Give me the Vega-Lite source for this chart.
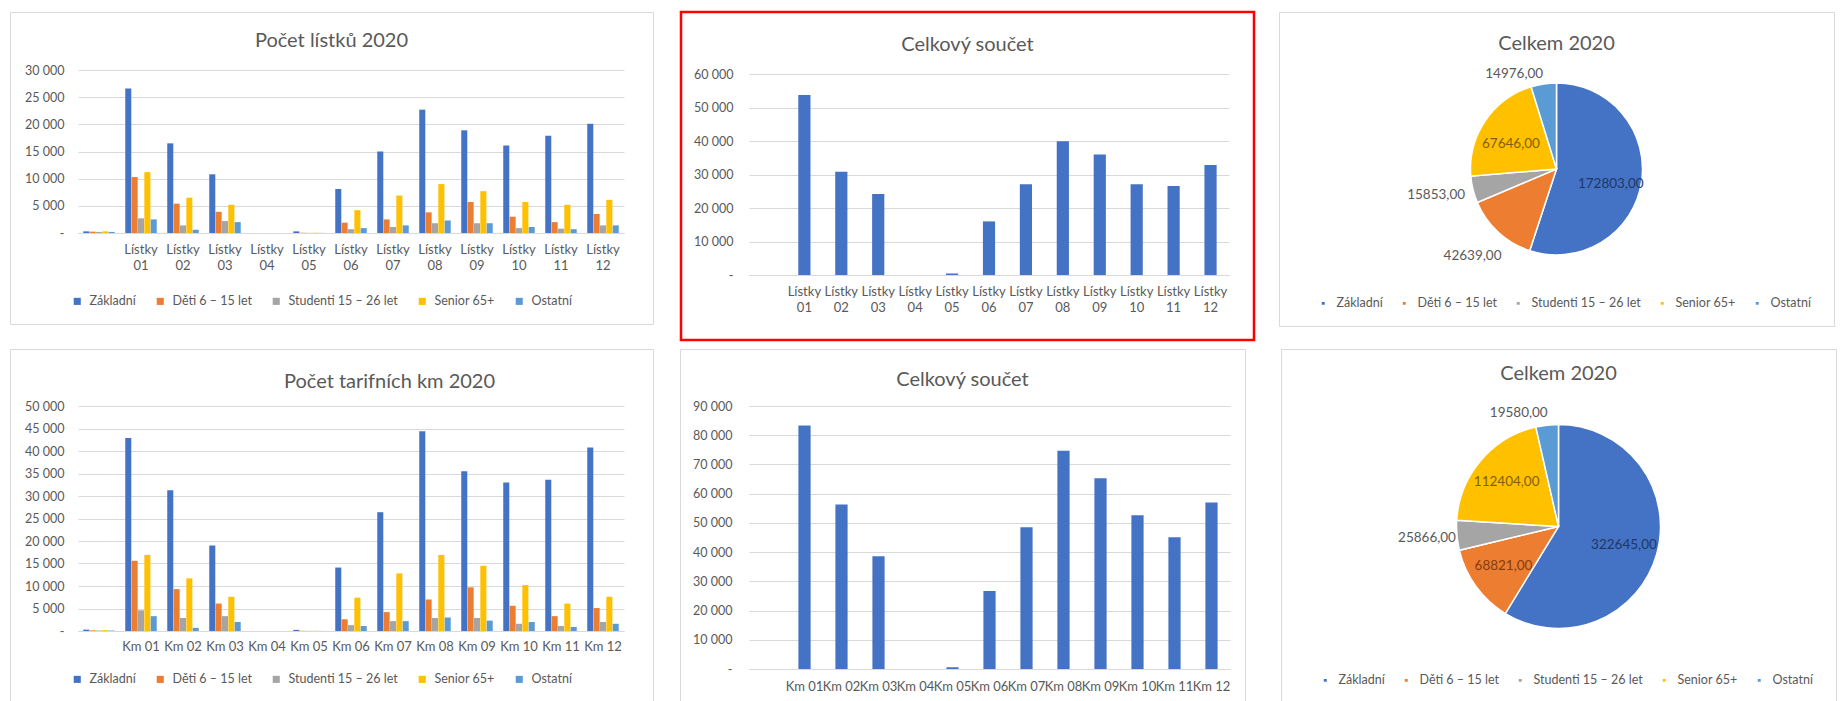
{
"$schema": "https://vega.github.io/schema/vega-lite/v6.json",
"background": "#ffffff",
"padding": {"left": 9, "top": 10, "right": 0, "bottom": 0},
"datasets": {
"tl": [
{"m":"","Základní":300,"Děti 6 – 15 let":250,"Studenti 15 – 26 let":200,"Senior 65+":300,"Ostatní":200},
{"m":"Lístky 01","Základní":26600,"Děti 6 – 15 let":10300,"Studenti 15 – 26 let":2700,"Senior 65+":11200,"Ostatní":2500},
{"m":"Lístky 02","Základní":16500,"Děti 6 – 15 let":5400,"Studenti 15 – 26 let":1400,"Senior 65+":6500,"Ostatní":600},
{"m":"Lístky 03","Základní":10800,"Děti 6 – 15 let":3900,"Studenti 15 – 26 let":2200,"Senior 65+":5200,"Ostatní":2000},
{"m":"Lístky 04","Základní":0,"Děti 6 – 15 let":0,"Studenti 15 – 26 let":0,"Senior 65+":0,"Ostatní":0},
{"m":"Lístky 05","Základní":300,"Děti 6 – 15 let":50,"Studenti 15 – 26 let":30,"Senior 65+":50,"Ostatní":20},
{"m":"Lístky 06","Základní":8100,"Děti 6 – 15 let":1900,"Studenti 15 – 26 let":700,"Senior 65+":4200,"Ostatní":900},
{"m":"Lístky 07","Základní":15000,"Děti 6 – 15 let":2500,"Studenti 15 – 26 let":1100,"Senior 65+":6900,"Ostatní":1400},
{"m":"Lístky 08","Základní":22700,"Děti 6 – 15 let":3800,"Studenti 15 – 26 let":1800,"Senior 65+":9000,"Ostatní":2300},
{"m":"Lístky 09","Základní":18900,"Děti 6 – 15 let":5700,"Studenti 15 – 26 let":1800,"Senior 65+":7700,"Ostatní":1800},
{"m":"Lístky 10","Základní":16100,"Děti 6 – 15 let":3000,"Studenti 15 – 26 let":900,"Senior 65+":5700,"Ostatní":1100},
{"m":"Lístky 11","Základní":17900,"Děti 6 – 15 let":2000,"Studenti 15 – 26 let":800,"Senior 65+":5200,"Ostatní":700},
{"m":"Lístky 12","Základní":20100,"Děti 6 – 15 let":3500,"Studenti 15 – 26 let":1400,"Senior 65+":6100,"Ostatní":1400}
],
"tm": [
{"m":"","v":0},{"m":"Lístky 01","v":53700},{"m":"Lístky 02","v":30800},{"m":"Lístky 03","v":24200},{"m":"Lístky 04","v":0},{"m":"Lístky 05","v":450},{"m":"Lístky 06","v":16000},{"m":"Lístky 07","v":27100},{"m":"Lístky 08","v":39900},{"m":"Lístky 09","v":36000},{"m":"Lístky 10","v":27100},{"m":"Lístky 11","v":26600},{"m":"Lístky 12","v":32800}
],
"bl": [
{"m":"","Základní":300,"Děti 6 – 15 let":150,"Studenti 15 – 26 let":100,"Senior 65+":200,"Ostatní":100},
{"m":"Km 01","Základní":42900,"Děti 6 – 15 let":15600,"Studenti 15 – 26 let":4600,"Senior 65+":16900,"Ostatní":3300},
{"m":"Km 02","Základní":31300,"Děti 6 – 15 let":9300,"Studenti 15 – 26 let":2900,"Senior 65+":11700,"Ostatní":700},
{"m":"Km 03","Základní":19000,"Děti 6 – 15 let":6100,"Studenti 15 – 26 let":3300,"Senior 65+":7600,"Ostatní":2000},
{"m":"Km 04","Základní":0,"Děti 6 – 15 let":0,"Studenti 15 – 26 let":0,"Senior 65+":0,"Ostatní":0},
{"m":"Km 05","Základní":250,"Děti 6 – 15 let":50,"Studenti 15 – 26 let":30,"Senior 65+":50,"Ostatní":20},
{"m":"Km 06","Základní":14100,"Děti 6 – 15 let":2600,"Studenti 15 – 26 let":1300,"Senior 65+":7400,"Ostatní":1100},
{"m":"Km 07","Základní":26400,"Děti 6 – 15 let":4200,"Studenti 15 – 26 let":2200,"Senior 65+":12800,"Ostatní":2200},
{"m":"Km 08","Základní":44400,"Děti 6 – 15 let":7000,"Studenti 15 – 26 let":2900,"Senior 65+":16900,"Ostatní":3000},
{"m":"Km 09","Základní":35500,"Děti 6 – 15 let":9700,"Studenti 15 – 26 let":2900,"Senior 65+":14500,"Ostatní":2300},
{"m":"Km 10","Základní":33000,"Děti 6 – 15 let":5600,"Studenti 15 – 26 let":1600,"Senior 65+":10200,"Ostatní":2000},
{"m":"Km 11","Základní":33600,"Děti 6 – 15 let":3300,"Studenti 15 – 26 let":1100,"Senior 65+":6100,"Ostatní":900},
{"m":"Km 12","Základní":40800,"Děti 6 – 15 let":5100,"Studenti 15 – 26 let":2000,"Senior 65+":7600,"Ostatní":1600}
],
"bm": [
{"m":"","v":0},{"m":"Km 01","v":83300},{"m":"Km 02","v":56300},{"m":"Km 03","v":38600},{"m":"Km 04","v":0},{"m":"Km 05","v":600},{"m":"Km 06","v":26700},{"m":"Km 07","v":48500},{"m":"Km 08","v":74700},{"m":"Km 09","v":65300},{"m":"Km 10","v":52600},{"m":"Km 11","v":45100},{"m":"Km 12","v":57000}
],
"p1": [
{"kat":"Základní","v":172803},{"kat":"Děti 6 – 15 let","v":42639},{"kat":"Studenti 15 – 26 let","v":15853},{"kat":"Senior 65+","v":67646},{"kat":"Ostatní","v":14976}
],
"p2": [
{"kat":"Základní","v":322645},{"kat":"Děti 6 – 15 let","v":68821},{"kat":"Studenti 15 – 26 let","v":25866},{"kat":"Senior 65+","v":112404},{"kat":"Ostatní","v":19580}
]
},
"spacing": 6,
"resolve": {"legend": {"color": "independent"}},
"vconcat": [
{"spacing": 25, "resolve": {"legend": {"color": "independent"}}, "hconcat": [
{
"width": 643, "height": 312,
"title": {"text": "Počet lístků 2020", "offset": -39},
"data": {"name": "tl"},
"transform": [{"fold": ["Základní","Děti 6 – 15 let","Studenti 15 – 26 let","Senior 65+","Ostatní"], "as": ["kat","v"]}],
"mark": {"type": "bar"},
"encoding": {
"x": {"field": "m", "type": "nominal", "sort": null, "title": null,
 "scale": {"range": [68, 614], "paddingInner": 0.25, "paddingOuter": 0.125},
 "axis": {"offset": -91, "labelExpr": "split(datum.label, ' ')", "labelLineHeight": 16, "labelPadding": 10, "labelAngle": 0, "domain": true, "domainColor": "#d9d9d9", "ticks": false, "labelOverlap": false, "grid": false}},
"xOffset": {"field": "kat", "type": "nominal", "sort": ["Základní","Děti 6 – 15 let","Studenti 15 – 26 let","Senior 65+","Ostatní"], "scale": {"paddingInner": 0.05}},
"y": {"field": "v", "type": "quantitative", "stack": null, "title": null,
 "scale": {"domain": [0, 30000], "range": [221, 58], "nice": false},
 "axis": {"values": [0,5000,10000,15000,20000,25000,30000], "offset": -68, "labelPadding": 14, "labelFontSize": 12.5, "format": ",.0f", "labelExpr": "datum.value == 0 ? '-' : datum.label", "domain": false, "ticks": false, "grid": true, "gridColor": "#d9d9d9"}},
"color": {"field": "kat", "type": "nominal", "sort": ["Základní","Děti 6 – 15 let","Studenti 15 – 26 let","Senior 65+","Ostatní"],
 "scale": {"domain": ["Základní","Děti 6 – 15 let","Studenti 15 – 26 let","Senior 65+","Ostatní"], "range": ["#4472C4","#ED7D31","#A5A5A5","#FFC000","#5B9BD5"]},
 "legend": {"orient": "none", "direction": "horizontal", "legendX": 61, "legendY": 283, "title": null, "symbolType": "square", "symbolSize": 50}}
}
},
{"spacing": 22, "resolve": {"legend": {"color": "independent"}}, "hconcat": [
{
"width": 573, "height": 328,
"view": {"stroke": "#ff0000", "strokeWidth": 2.5},
"title": {"text": "Celkový součet", "offset": -43},
"data": {"name": "tm"},
"mark": {"type": "bar", "color": "#4472C4"},
"encoding": {
"x": {"field": "m", "type": "nominal", "sort": null, "title": null,
 "scale": {"range": [68, 548], "paddingInner": 0.67, "paddingOuter": 0.335},
 "axis": {"offset": -65, "labelExpr": "split(datum.label, ' ')", "labelLineHeight": 16, "labelPadding": 10, "labelAngle": 0, "domain": true, "domainColor": "#d9d9d9", "ticks": false, "labelOverlap": false, "grid": false}},
"y": {"field": "v", "type": "quantitative", "title": null,
 "scale": {"domain": [0, 60000], "range": [263, 62], "nice": false},
 "axis": {"values": [0,10000,20000,30000,40000,50000,60000], "offset": -68, "labelPadding": 16, "labelFontSize": 12.5, "format": ",.0f", "labelExpr": "datum.value == 0 ? '-' : datum.label", "domain": false, "ticks": false, "grid": true, "gridColor": "#d9d9d9"}}
}
},
{
"width": 555, "height": 314,
"view": {"stroke": "#d9d9d9", "strokeWidth": 1},
"title": {"text": "Celkem 2020", "offset": -42},
"data": {"name": "p1"},
"transform": [{"window": [{"op": "row_number", "as": "idx"}]}],
"encoding": {
"theta": {"field": "v", "type": "quantitative", "stack": true},
"order": {"field": "idx", "type": "quantitative"}
},
"layer": [
{"mark": {"type": "arc", "outerRadius": 86, "stroke": "#ffffff", "strokeWidth": 1.5},
 "encoding": {"color": {"field": "kat", "type": "nominal", "sort": ["Základní","Děti 6 – 15 let","Studenti 15 – 26 let","Senior 65+","Ostatní"],
  "scale": {"domain": ["Základní","Děti 6 – 15 let","Studenti 15 – 26 let","Senior 65+","Ostatní"], "range": ["#4472C4","#ED7D31","#A5A5A5","#FFC000","#5B9BD5"]},
  "legend": {"orient": "none", "direction": "horizontal", "legendX": 38, "legendY": 285, "title": null, "symbolType": "square", "symbolSize": 20, "labelOffset": 7, "columnPadding": 15}}}},
{"mark": {"type": "text", "radius": 55, "dy": 6, "fontSize": 13.5, "font": "Lato"},
 "encoding": {"text": {"condition": {"test": "datum.v > 50000", "field": "v", "type": "quantitative", "format": ".2f"}, "value": ""},
  "color": {"condition": [{"test": "datum.kat == 'Základní'", "value": "#203864"}, {"test": "datum.kat == 'Senior 65+'", "value": "#7F6000"}], "value": "#843C0C"}}},
{"mark": {"type": "text", "radius": 124, "dy": -4, "fontSize": 13.5, "font": "Lato", "color": "#595959"},
 "encoding": {"text": {"condition": {"test": "datum.v <= 50000 && datum.kat != 'Ostatní'", "field": "v", "type": "quantitative", "format": ".2f"}, "value": ""}}},
{"mark": {"type": "text", "radius": 96, "dx": -28, "fontSize": 13.5, "font": "Lato", "color": "#595959"},
 "encoding": {"text": {"condition": {"test": "datum.kat == 'Ostatní'", "field": "v", "type": "quantitative", "format": ".2f"}, "value": ""}}}
]
}
]}
]},
{"spacing": 25, "resolve": {"legend": {"color": "independent"}}, "hconcat": [
{
"width": 643, "height": 355,
"title": {"text": "Počet tarifních km 2020", "offset": -43, "dx": 58},
"data": {"name": "bl"},
"transform": [{"fold": ["Základní","Děti 6 – 15 let","Studenti 15 – 26 let","Senior 65+","Ostatní"], "as": ["kat","v"]}],
"mark": {"type": "bar"},
"encoding": {
"x": {"field": "m", "type": "nominal", "sort": null, "title": null,
 "scale": {"range": [68, 614], "paddingInner": 0.25, "paddingOuter": 0.125},
 "axis": {"offset": -73, "labelPadding": 9, "labelAngle": 0, "domain": true, "domainColor": "#d9d9d9", "ticks": false, "labelOverlap": false, "grid": false}},
"xOffset": {"field": "kat", "type": "nominal", "sort": ["Základní","Děti 6 – 15 let","Studenti 15 – 26 let","Senior 65+","Ostatní"], "scale": {"paddingInner": 0.05}},
"y": {"field": "v", "type": "quantitative", "stack": null, "title": null,
 "scale": {"domain": [0, 50000], "range": [282, 57], "nice": false},
 "axis": {"values": [0,5000,10000,15000,20000,25000,30000,35000,40000,45000,50000], "offset": -68, "labelPadding": 14, "labelFontSize": 12.5, "format": ",.0f", "labelExpr": "datum.value == 0 ? '-' : datum.label", "domain": false, "ticks": false, "grid": true, "gridColor": "#d9d9d9"}},
"color": {"field": "kat", "type": "nominal", "sort": ["Základní","Děti 6 – 15 let","Studenti 15 – 26 let","Senior 65+","Ostatní"],
 "scale": {"domain": ["Základní","Děti 6 – 15 let","Studenti 15 – 26 let","Senior 65+","Ostatní"], "range": ["#4472C4","#ED7D31","#A5A5A5","#FFC000","#5B9BD5"]},
 "legend": {"orient": "none", "direction": "horizontal", "legendX": 61, "legendY": 324, "title": null, "symbolType": "square", "symbolSize": 50}}
}
},
{"spacing": 34, "resolve": {"legend": {"color": "independent"}}, "hconcat": [
{
"width": 565, "height": 355,
"title": {"text": "Celkový součet", "offset": -41},
"data": {"name": "bm"},
"mark": {"type": "bar", "color": "#4472C4"},
"encoding": {
"x": {"field": "m", "type": "nominal", "sort": null, "title": null,
 "scale": {"range": [69, 550], "paddingInner": 0.67, "paddingOuter": 0.335},
 "axis": {"offset": -35, "labelPadding": 11, "labelAngle": 0, "domain": true, "domainColor": "#d9d9d9", "ticks": false, "labelOverlap": false, "grid": false}},
"y": {"field": "v", "type": "quantitative", "title": null,
 "scale": {"domain": [0, 90000], "range": [320, 57], "nice": false},
 "axis": {"values": [0,10000,20000,30000,40000,50000,60000,70000,80000,90000], "offset": -69, "labelPadding": 17, "labelFontSize": 12.5, "format": ",.0f", "labelExpr": "datum.value == 0 ? '-' : datum.label", "domain": false, "ticks": false, "grid": true, "gridColor": "#d9d9d9"}}
}
},
{
"width": 555, "height": 355,
"view": {"stroke": "#d9d9d9", "strokeWidth": 1},
"title": {"text": "Celkem 2020", "offset": -35},
"data": {"name": "p2"},
"transform": [{"window": [{"op": "row_number", "as": "idx"}]}],
"encoding": {
"theta": {"field": "v", "type": "quantitative", "stack": true},
"order": {"field": "idx", "type": "quantitative"}
},
"layer": [
{"mark": {"type": "arc", "outerRadius": 102, "stroke": "#ffffff", "strokeWidth": 1.5},
 "encoding": {"color": {"field": "kat", "type": "nominal", "sort": ["Základní","Děti 6 – 15 let","Studenti 15 – 26 let","Senior 65+","Ostatní"],
  "scale": {"domain": ["Základní","Děti 6 – 15 let","Studenti 15 – 26 let","Senior 65+","Ostatní"], "range": ["#4472C4","#ED7D31","#A5A5A5","#FFC000","#5B9BD5"]},
  "legend": {"orient": "none", "direction": "horizontal", "legendX": 38, "legendY": 325, "title": null, "symbolType": "square", "symbolSize": 20, "labelOffset": 7, "columnPadding": 15}}}},
{"mark": {"type": "text", "radius": 68, "fontSize": 13.5, "font": "Lato"},
 "encoding": {"text": {"condition": {"test": "datum.v > 50000", "field": "v", "type": "quantitative", "format": ".2f"}, "value": ""},
  "color": {"condition": [{"test": "datum.kat == 'Základní'", "value": "#203864"}, {"test": "datum.kat == 'Senior 65+'", "value": "#7F6000"}], "value": "#843C0C"}}},
{"mark": {"type": "text", "radius": 132, "fontSize": 13.5, "font": "Lato", "color": "#595959"},
 "encoding": {"text": {"condition": {"test": "datum.v <= 50000 && datum.kat != 'Ostatní'", "field": "v", "type": "quantitative", "format": ".2f"}, "value": ""}}},
{"mark": {"type": "text", "radius": 114, "dx": -27, "fontSize": 13.5, "font": "Lato", "color": "#595959"},
 "encoding": {"text": {"condition": {"test": "datum.kat == 'Ostatní'", "field": "v", "type": "quantitative", "format": ".2f"}, "value": ""}}}
]
}
]}
]}
],
"config": {
"font": "Lato",
"locale": {"number": {"decimal": ",", "thousands": "\u00a0", "grouping": [3], "currency": ["", "\u00a0Kč"]}},
"view": {"stroke": "#d9d9d9", "strokeWidth": 1},
"axis": {"labelFont": "Lato", "labelColor": "#595959", "labelFontSize": 13},
"legend": {"labelFont": "Lato", "labelColor": "#595959", "labelFontSize": 12.5, "padding": 0, "labelOffset": 6, "columnPadding": 18},
"title": {"font": "Lato", "fontSize": 20, "fontWeight": "normal", "color": "#595959"}
}
}
